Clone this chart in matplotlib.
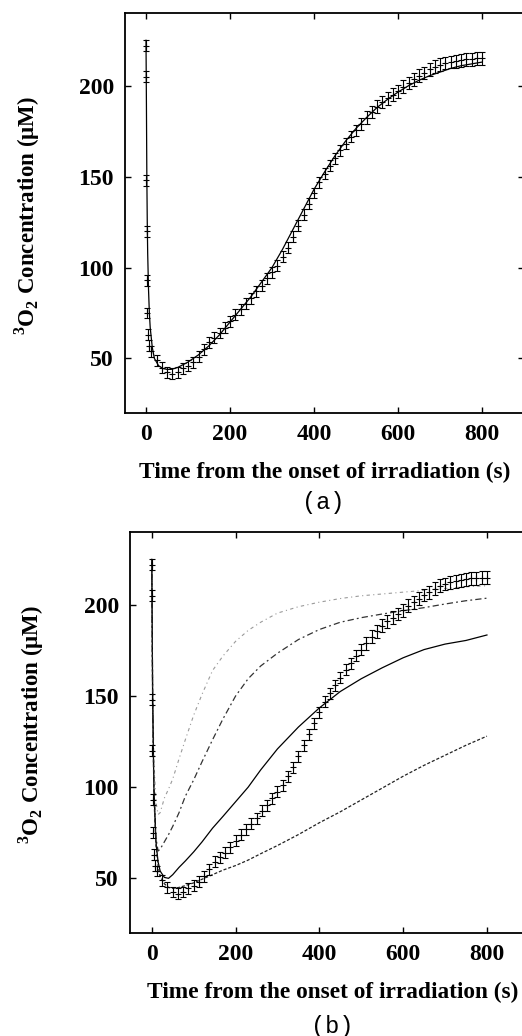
import numpy as np
import matplotlib
matplotlib.use("Agg")
import matplotlib.pyplot as plt

# --- measured data (both panels) ---
t_obs = [0, 0.5, 1, 1.5, 2, 3, 5, 8] + list(np.arange(12.5, 812.5, 12.5))
v_obs = [222, 205, 148, 120, 93, 75, 63, 57,
         54, 49, 45, 42.5, 41.5, 42.5, 44.5, 46, 48, 51, 55, 59,
         61.5, 64, 67, 70.5, 74, 77, 80, 83, 87, 90, 94, 97.5,
         101, 106, 111, 117, 123, 129, 135, 141, 147, 151.5, 156, 160,
         164.5, 168, 172, 175.5, 179, 182.5, 185.5, 188.5, 191, 193, 195, 197,
         199.5, 201.5, 203.5, 205.5, 207, 209, 210.5, 211.5, 212.5, 213, 213.5, 214,
         214.5, 214.5, 215, 215]
err_obs = [3.0] * 48 + [3.5] * 24

# --- fitted curve, panel (a) ---
t_fit = [0, 1, 2, 3, 4, 6, 8, 10, 15, 20, 30, 40, 50, 60, 75,
         100, 125, 150, 175, 200, 225, 250, 275, 300, 325, 350, 375, 400,
         425, 450, 475, 500, 525, 550, 575, 600, 625, 650, 675, 700, 725,
         750, 775, 800]
v_fit = [225, 190, 150, 125, 108, 88, 75, 67, 56, 50, 46, 44.5, 44, 44, 45,
         48, 52, 57, 63, 70, 77, 84, 92, 100, 110, 121, 132, 143,
         152.5, 161.5, 169.5, 176.5, 182.5, 188, 192.5, 196.5, 200, 203, 205.5,
         207.5, 209.5, 211, 212, 213]

# --- model curves, panel (b) ---
t_mod = [0, 2, 5, 10, 15, 20, 30, 40, 50, 65, 80, 100, 120, 145, 170, 200,
         230, 260, 300, 350, 400, 450, 500, 550, 600, 650, 700, 750, 800]
v_mod1 = [225, 160, 115, 92, 85, 86, 94, 99, 104.5, 115.5, 126, 139.5, 151, 164,
          172, 180, 186, 190.5, 195.5, 199, 201.5, 203.5, 205, 206, 207, 208,
          209, 210, 210.5]
v_mod2 = [225, 150, 100, 72, 65, 66, 70, 74, 78.5, 86, 95, 104, 114, 126,
          137.5, 150, 159.5, 166.5, 173.5, 181, 186.5, 190.5, 193, 195, 196.8,
          198.5, 200.5, 202.3, 203.7]
v_mod3 = [225, 150, 100, 70, 59, 54, 50.5, 50, 52, 56, 59.5, 64.5, 70, 77.5,
          84, 92, 100, 109.5, 121, 133, 143.5, 152.5, 159.5, 165.5, 171, 175.5,
          178.5, 180.5, 183.5]
v_mod4 = [225, 150, 95, 68, 57, 51, 47, 45, 44.5, 45, 46, 47.5, 49.5, 52,
          54.5, 57, 60, 63.5, 68, 74, 80.5, 86.5, 93, 99.5, 106, 112, 117.5,
          123, 128]

x_ticks = [0, 200, 400, 600, 800]
y_ticks = [50, 100, 150, 200]

plt.rcParams["font.family"] = ["Liberation Serif", "DejaVu Serif"]
plt.rcParams["mathtext.fontset"] = "custom"
plt.rcParams["mathtext.rm"] = "Liberation Serif:bold"
plt.rcParams["mathtext.bf"] = "Liberation Serif:bold"

W, H = 522, 1036
fig = plt.figure(figsize=(W / 100, H / 100), dpi=100, facecolor="white")


def px(x, y):
    return x / W, 1 - y / H


def style_axes(ax, xlim):
    ax.set_xlim(*xlim)
    ax.set_ylim(20, 240)
    ax.set_xticks(x_ticks)
    ax.set_yticks(y_ticks)
    ax.tick_params(direction="in", length=4.5, width=1, top=True, right=True,
                   labelsize=17, pad=8)
    for lab in ax.get_xticklabels() + ax.get_yticklabels():
        lab.set_fontweight("bold")
    for s in ax.spines.values():
        s.set_linewidth(1.3)


def draw_obs(ax):
    ax.errorbar(t_obs, v_obs, yerr=err_obs, fmt="+", color="black", ms=4,
                mew=0.8, elinewidth=0.8, capsize=2.4, capthick=0.8, zorder=3)


ylabel = r"$^{3}$O$_{2}$ Concentration (μM)"
xlabel = "Time from the onset of irradiation (s)"

# panel (a)
ax_a = fig.add_axes([125 / W, 1 - 413 / H, 399 / W, 400 / H])
ax_a.plot(t_fit, v_fit, color="black", lw=0.9, zorder=2)
draw_obs(ax_a)
style_axes(ax_a, (-50, 900))
fig.text(*px(27, 216), ylabel, rotation=90, ha="center", va="center",
         fontsize=16.5, fontweight="bold")
fig.text(*px(325, 472), xlabel, ha="center", va="center", fontsize=16.8,
         fontweight="bold")
fig.text(*px(323, 503), "(a)", ha="center", va="center", fontsize=17,
         family="Liberation Mono")

# panel (b)
ax_b = fig.add_axes([130 / W, 1 - 933 / H, 398 / W, 401 / H])
ax_b.plot(t_mod, v_mod1, color="#9a9a9a", lw=0.8, ls=(0, (3, 3, 1, 3)))
ax_b.plot(t_mod, v_mod2, color="#333333", lw=0.9, ls=(0, (5, 2.5, 1.5, 2.5)))
ax_b.plot(t_mod, v_mod3, color="black", lw=0.9)
ax_b.plot(t_mod, v_mod4, color="#222222", lw=0.9, ls=(0, (2.5, 1.5)))
draw_obs(ax_b)
style_axes(ax_b, (-52, 898))
fig.text(*px(31, 725), ylabel, rotation=90, ha="center", va="center",
         fontsize=16.5, fontweight="bold")
fig.text(*px(333, 992), xlabel, ha="center", va="center", fontsize=16.8,
         fontweight="bold")
fig.text(*px(332, 1026), "(b)", ha="center", va="center", fontsize=17,
         family="Liberation Mono")

fig.savefig("out.png", dpi=100, facecolor="white")
